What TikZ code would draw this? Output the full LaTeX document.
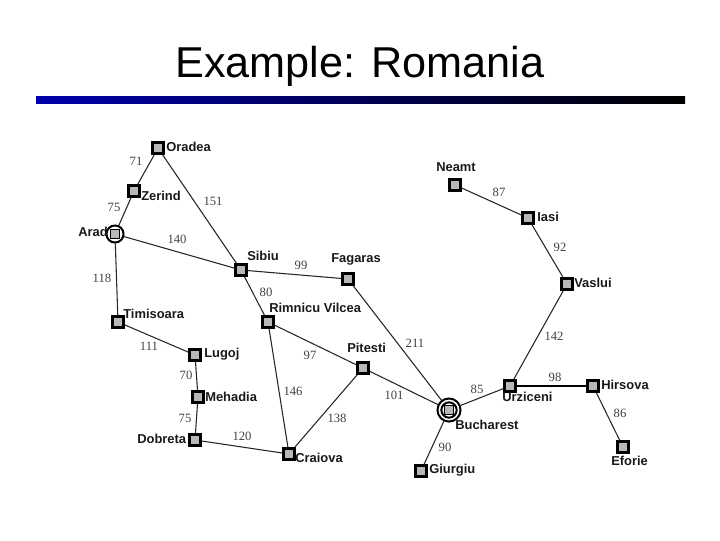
\documentclass[tikz,border=0pt]{standalone}
\usepackage{fontspec}
\setmainfont{Liberation Sans}
\newfontfamily\weightfont{Liberation Serif}
\definecolor{citygray}{gray}{0.72}
\definecolor{barblue}{RGB}{0,0,170}
\tikzset{
  city/.style={draw=black,line width=2.1pt,fill=citygray,rectangle,inner sep=0pt,minimum size=7.8pt},
  road/.style={line width=0.8pt,black!85},
  cityname/.style={font=\fontsize{9.7}{11}\selectfont\bfseries,text=black!90,inner sep=0pt},
  weight/.style={font=\weightfont\fontsize{9.5}{10}\selectfont,text=black!75,inner sep=0pt},
  ring/.style={draw=black,line width=1.5pt,circle,inner sep=0pt}
}
\begin{document}
\begin{tikzpicture}[x=0.75pt,y=-0.75pt]
\useasboundingbox (0,0) rectangle (720,540);
\node[font=\fontsize{32.4}{36}\selectfont,inner sep=0pt] (title) at (360,66) {Example: Romania};
\shade[left color=barblue,right color=black] (36,96) rectangle (685,103);
\node[ring,minimum size=12.8pt] (arad) at (115,234) {};
\node[ring,minimum size=17.3pt] (bucharest) at (449,410) {};
\node[ring,minimum size=11.5pt] (bucharestin) at (449,410) {};
\foreach \name/\x/\y in {oradea/158/148,zerind/134/191,timisoara/118/322,lugoj/195/355,
  mehadia/198/397,dobreta/195/440,craiova/289/454,rimnicu/268/322,sibiu/241/270,fagaras/348/279,
  pitesti/363/368,giurgiu/421/471,urziceni/510/386,hirsova/593/386,eforie/623/447,vaslui/567/284,
  iasi/528/218,neamt/455/185}{\node[city] (\name) at (\x,\y) {};}
\node[city,line width=1.2pt,minimum size=7pt] (aradsq) at (arad) {};
\node[city,line width=1.2pt,minimum size=7pt] (bucharestsq) at (bucharest) {};
\foreach \a/\b in {oradea/zerind,zerind/arad,oradea/sibiu,arad/sibiu,arad/timisoara,timisoara/lugoj,
  lugoj/mehadia,mehadia/dobreta,dobreta/craiova,sibiu/fagaras,sibiu/rimnicu,rimnicu/pitesti,
  rimnicu/craiova,craiova/pitesti,pitesti/bucharest,fagaras/bucharest,bucharest/giurgiu,
  bucharest/urziceni,hirsova/eforie,urziceni/vaslui,vaslui/iasi,iasi/neamt}{\draw[road] (\a)--(\b);}
\draw[road,line width=1.2pt,black] (urziceni)--(hirsova);
% city names
\foreach \name/\x/\y/\txt in {oradea/166/147/Oradea,zerind/141/196/Zerind,timisoara/123/314/Timisoara,
  lugoj/204/354/Lugoj,mehadia/205/397/Mehadia,dobreta/137/439/Dobreta,craiova/295/458/Craiova,
  rimnicu/269/308/Rimnicu Vilcea,sibiu/247/256/Sibiu,fagaras/331/259/Fagaras,pitesti/347/348/Pitesti,
  bucharest/455/425/Bucharest,giurgiu/429/470/Giurgiu,urziceni/502/397/Urziceni,hirsova/601/385/Hirsova,
  eforie/611/461/Eforie,vaslui/574/283/Vaslui,iasi/537/217/Iasi,neamt/436/167/Neamt,arad/78/232/Arad}
  {\node[cityname,anchor=west] (\name name) at (\x,\y) {\txt};}
% distances
\foreach \k/\x/\y/\w in {a/136/161/71,b/114/207/75,c/213/201/151,d/177/239/140,e/102/278/118,f/301/265/99,
  g/266/292/80,h/149/346/111,i/310/355/97,j/186/375/70,k/185/418/75,l/293/391/146,m/337/418/138,
  n/242/436/120,o/394/395/101,p/415/343/211,q/445/447/90,r/477/389/85,s/555/377/98,t/620/413/86,
  u/554/336/142,v/560/247/92,w/499/192/87}{\node[weight] (w\k) at (\x,\y) {\w};}
\end{tikzpicture}
\end{document}
